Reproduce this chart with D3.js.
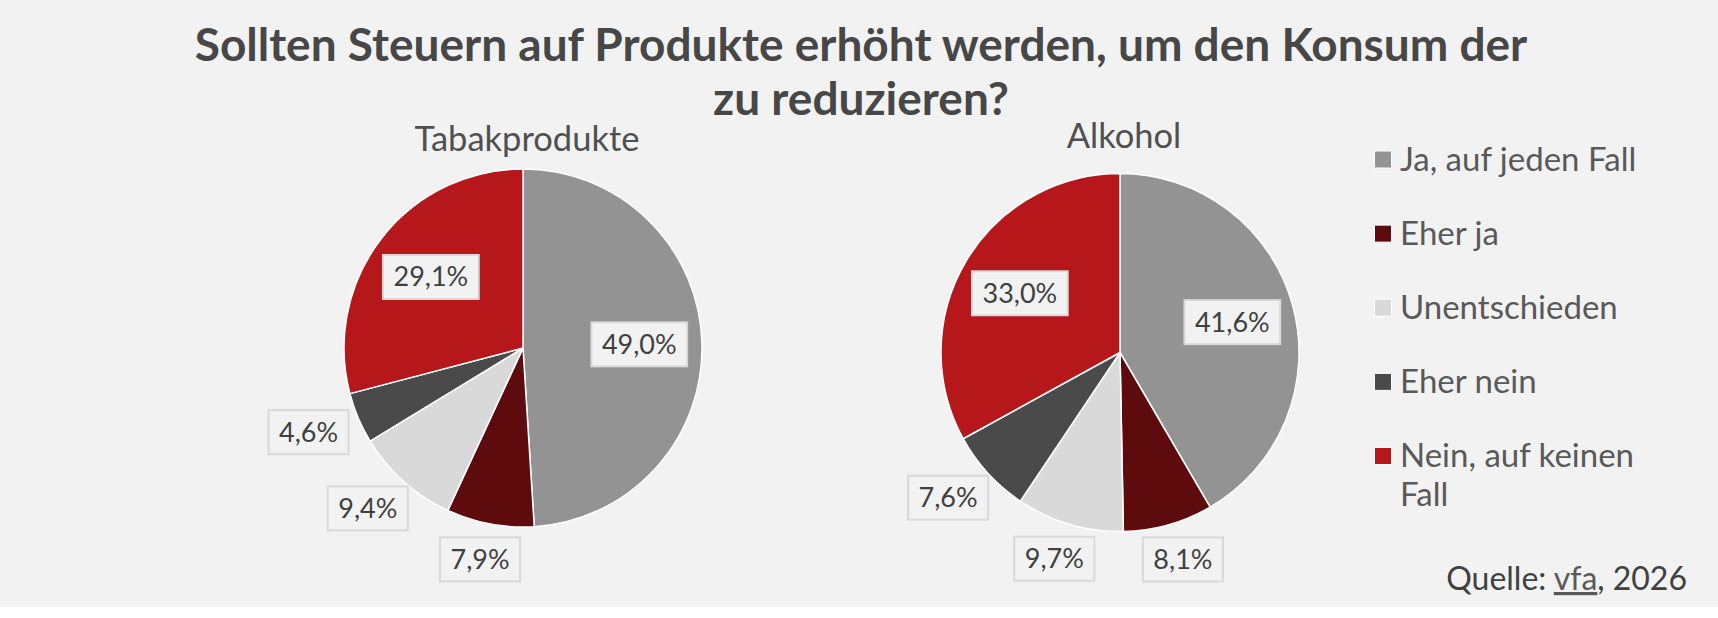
<!DOCTYPE html>
<html>
<head>
<meta charset="utf-8">
<script src="https://cdn.jsdelivr.net/npm/d3@7"></script>
<style>
  body { margin: 0; background: #fff; }
  svg { display: block; font-family: Lato, "Open Sans", sans-serif; }
</style>
</head>
<body>
<svg width="1718" height="618"></svg>
<script>
// answers, in the order the slices run clockwise from 12 o'clock
const categories = ["Ja, auf jeden Fall", "Eher ja", "Unentschieden", "Eher nein", "Nein, auf keinen Fall"];
const tabakValues = [49.0, 7.9, 9.4, 4.6, 29.1];
const alkoholValues = [41.6, 8.1, 9.7, 7.6, 33.0];
const chartNames = ["Tabakprodukte", "Alkohol"];
const titleLines = ["Sollten Steuern auf Produkte erhöht werden, um den Konsum der", "zu reduzieren?"];

const colors = ["#939393", "#5d0b0d", "#d9d9d9", "#4a4a4a", "#b5171b"];

const svg = d3.select("svg");
const width = +svg.attr("width");
const height = +svg.attr("height");

const bgHeight = 607;
const radius = 179;
const pies = [
  { name: chartNames[0], values: tabakValues, cx: 523, cy: 348, labelY: 151 },
  { name: chartNames[1], values: alkoholValues, cx: 1120, cy: 352.5, labelY: 148 }
];

svg.append("rect")
  .attr("width", width)
  .attr("height", bgHeight)
  .attr("fill", "#f2f2f2");

// title
svg.append("text")
  .attr("class", "title")
  .attr("x", width / 2 + 2)
  .attr("y", 61)
  .attr("text-anchor", "middle")
  .attr("font-size", 46)
  .attr("font-weight", 700)
  .attr("fill", "#474747")
  .selectAll("tspan")
  .data(titleLines)
  .join("tspan")
  .attr("x", width / 2 + 2)
  .attr("dy", (d, i) => i === 0 ? 0 : 54)
  .text(d => d);

const pie = d3.pie().sort(null).value(d => d);
const arc = d3.arc().innerRadius(0).outerRadius(radius);
const labelArc = d3.arc().innerRadius(radius * 0.65).outerRadius(radius * 0.65);
const fmt = v => d3.format(".1f")(v).replace(".", ",") + "%";

pies.forEach(p => {
  const g = svg.append("g").attr("transform", `translate(${p.cx},${p.cy})`);

  svg.append("text")
    .attr("x", p.cx + 4)
    .attr("y", p.labelY)
    .attr("text-anchor", "middle")
    .attr("font-size", 34.5)
    .attr("fill", "#505050")
    .text(p.name);

  const arcs = pie(p.values);

  g.selectAll("path")
    .data(arcs)
    .join("path")
    .attr("d", arc)
    .attr("fill", (d, i) => colors[i])
    .attr("stroke", "#fff")
    .attr("stroke-width", 1.5)
    .attr("stroke-linejoin", "round");

  const labels = g.selectAll(".label")
    .data(arcs)
    .join("g")
    .attr("class", "label");

  labels.append("rect")
    .attr("fill", "#f2f2f2")
    .attr("stroke", "#d9d9d9")
    .attr("stroke-width", 2);

  labels.append("text")
    .attr("text-anchor", "middle")
    .attr("dy", "0.35em")
    .attr("font-size", 27)
    .attr("fill", "#404040")
    .text(d => fmt(d.data));

  labels.each(function (d) {
    const t = d3.select(this).select("text");
    const w = t.node().getComputedTextLength() + 21;
    const h = 44;
    let x, y;
    if (d.data > 15) {
      [x, y] = labelArc.centroid(d);
    } else {
      // outside: box edge sits a little beyond the rim, on the slice's mid angle
      const a = (d.startAngle + d.endAngle) / 2;
      const ux = Math.sin(a), uy = -Math.cos(a);
      const rr = radius + 14;
      x = ux * rr + ux * w / 2;
      y = uy * rr + uy * h / 2;
    }
    d3.select(this).attr("transform", `translate(${x},${y})`);
    d3.select(this).select("rect")
      .attr("x", -w / 2)
      .attr("y", -h / 2)
      .attr("width", w)
      .attr("height", h);
  });
});

// legend
const legendX = 1374.5;
const legendY = d3.scalePoint().domain(categories).range([159.5, 456]);

const legend = svg.selectAll(".legend")
  .data(categories)
  .join("g")
  .attr("class", "legend")
  .attr("transform", d => `translate(${legendX},${legendY(d)})`);

legend.append("rect")
  .attr("x", 0)
  .attr("y", -8.5)
  .attr("width", 17)
  .attr("height", 17)
  .attr("fill", (d, i) => colors[i])
  .attr("stroke", "#fff")
  .attr("stroke-width", 1);

legend.append("text")
  .attr("x", 25.5)
  .attr("y", 11)
  .attr("font-size", 33)
  .attr("fill", "#595959")
  .selectAll("tspan")
  .data(d => d === "Nein, auf keinen Fall" ? ["Nein, auf keinen", "Fall"] : [d])
  .join("tspan")
  .attr("x", 25.5)
  .attr("dy", (d, i) => i === 0 ? 0 : 38.7)
  .text(d => d);

// source
const source = svg.append("text")
  .attr("x", 1687)
  .attr("y", 590)
  .attr("text-anchor", "end")
  .attr("font-size", 32)
  .attr("fill", "#404040");
source.append("tspan").text("Quelle: ");
source.append("tspan").attr("text-decoration", "underline").attr("fill", "#595959").text("vfa");
source.append("tspan").text(", 2026");
</script>
</body>
</html>
